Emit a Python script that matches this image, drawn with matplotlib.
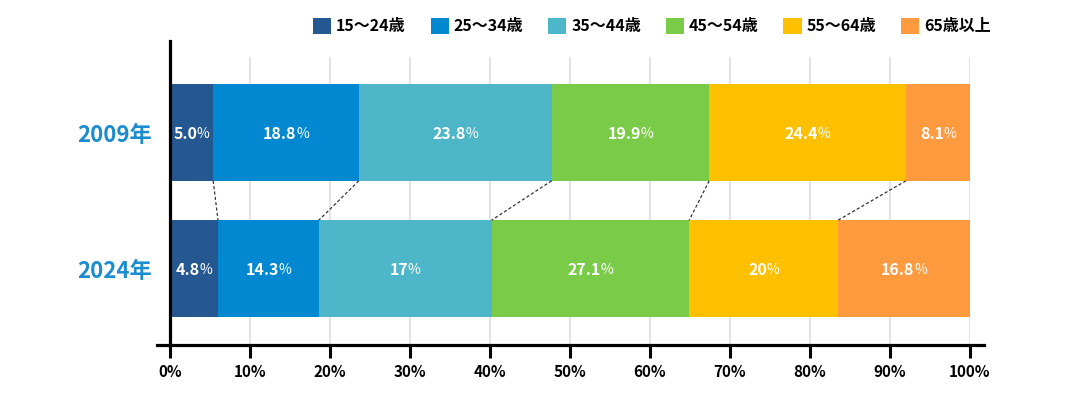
import matplotlib
matplotlib.use("Agg")
import matplotlib.pyplot as plt
from matplotlib.patches import Patch
from matplotlib.lines import Line2D
import numpy as np

plt.rcParams['font.family'] = ['Noto Sans CJK JP', 'DejaVu Sans']

# data
years = ['2009年', '2024年']
age_groups = ['15～24歳', '25～34歳', '35～44歳', '45～54歳', '55～64歳', '65歳以上']
colors = ['#255890', '#0288d1', '#4db6c8', '#7acc48', '#ffc000', '#ff9a3e']
# bar lengths as drawn in the chart (%)
share_2009 = [5.4, 18.2, 24.1, 19.7, 24.6, 8.0]
share_2024 = [6.0, 12.6, 21.6, 24.7, 18.6, 16.5]
# labels printed on the bars
labels_2009 = ['5.0', '18.8', '23.8', '19.9', '24.4', '8.1']
labels_2024 = ['4.8', '14.3', '17', '27.1', '20', '16.8']
xticks = [0, 10, 20, 30, 40, 50, 60, 70, 80, 90, 100]

shares = [share_2009, share_2024]
labels = [labels_2009, labels_2024]

fig = plt.figure(figsize=(10.8, 3.95), dpi=100)
ax = fig.add_axes([170 / 1080, 50 / 395, 800 / 1080, 304 / 395])

bar_h = 0.71
ax.set_xlim(0, 100)
ax.set_ylim(1.5625, -0.673)

# grid lines
ax.vlines(xticks[1:], 1.5625, -0.555, colors='#e4e4e4', lw=1.5, zorder=0)

# stacked bars
for yi, vals in enumerate(shares):
    left = 0
    for ci, v in enumerate(vals):
        ax.barh(yi, v, left=left, height=bar_h, color=colors[ci], zorder=2)
        left += v

# dashed connectors between the two bars
cum09 = np.cumsum(share_2009)[:-1]
cum24 = np.cumsum(share_2024)[:-1]
for a, b in zip(cum09, cum24):
    ax.plot([a, b], [bar_h / 2, 1 - bar_h / 2], color='#333333', lw=0.9,
            dashes=(2.5, 1.8), zorder=3)

# spines and ticks
for s in ['top', 'right', 'bottom']:
    ax.spines[s].set_visible(False)
ax.spines['left'].set_linewidth(2.3)
ax.spines['left'].set_zorder(4)
ax.add_line(Line2D([-13 / 800, 1 + 14 / 800], [0, 0], transform=ax.transAxes,
                   color='black', lw=2.3, clip_on=False, zorder=4))

ax.set_xticks(xticks)
ax.set_xticklabels([f'{t}%' for t in xticks], fontsize=11, fontweight='bold')
ax.tick_params(axis='x', direction='out', length=9.5, width=2.2, pad=4)
ax.set_yticks([0, 1])
ax.set_yticklabels(years, fontsize=16, fontweight='bold', color='#1a8ccf')
ax.tick_params(axis='y', length=0, pad=13)

# segment labels: bold number followed by a lighter %
fig.canvas.draw()
renderer = fig.canvas.get_renderer()
inv = ax.transData.inverted()
for yi, vals in enumerate(shares):
    left = 0
    for ci, v in enumerate(vals):
        xc = left + v / 2
        left += v
        t1 = ax.text(xc, yi, labels[yi][ci], color='white', fontsize=11.5,
                     fontweight='bold', ha='left', va='center_baseline', zorder=5)
        t2 = ax.text(xc, yi, '%', color='white', fontsize=10,
                     ha='left', va='center_baseline', zorder=5)
        w1 = t1.get_window_extent(renderer).width
        w2 = t2.get_window_extent(renderer).width
        px, py = ax.transData.transform((xc, yi))
        start = px - (w1 + w2 - 0.5) / 2
        t1.set_x(inv.transform((start, py))[0])
        t2.set_x(inv.transform((start + w1 - 0.5, py))[0])

# legend
handles = [Patch(facecolor=c, edgecolor='none') for c in colors]
leg = fig.legend(handles, age_groups, loc='center left', ncol=6,
                 bbox_to_anchor=(313 / 1080, 1 - 26 / 395), frameon=False,
                 prop={'size': 11.5, 'weight': 'bold'}, handlelength=1.15,
                 handleheight=1.15, handletextpad=0.3, columnspacing=1.55,
                 borderpad=0, borderaxespad=0)

fig.savefig('out.png', dpi=100)
